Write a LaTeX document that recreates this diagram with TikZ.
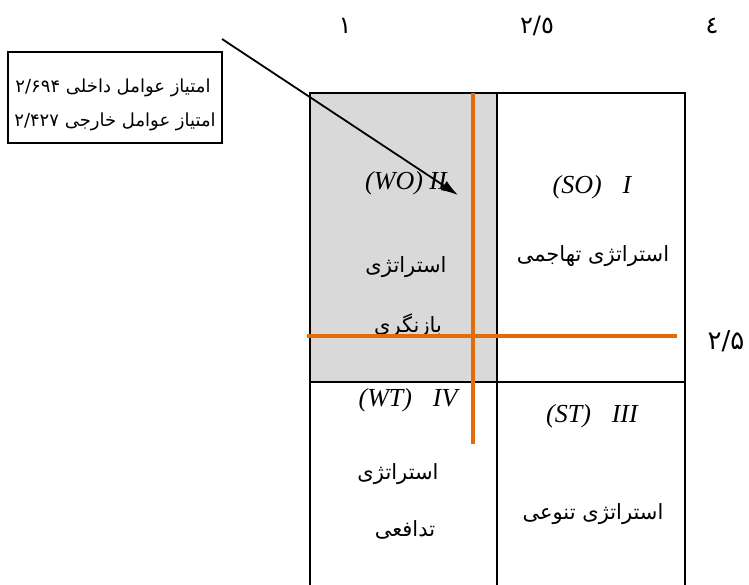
\documentclass[tikz,border=0pt]{standalone}
\usepackage{fontspec}
\setmainfont{Liberation Serif}
\newfontfamily\arabicfont[Script=Arabic]{DejaVu Sans}
\TeXXeTstate=1
\usetikzlibrary{arrows.meta}
\definecolor{swotorange}{RGB}{227,108,10}
\definecolor{swotgray}{RGB}{217,217,217}
\tikzset{
  fa/.style={font=\arabicfont\fontsize{21}{24}\selectfont, inner sep=0pt},
  fabox/.style={font=\arabicfont\fontsize{18}{21}\selectfont, inner sep=0pt},
  faaxis/.style={font=\arabicfont\fontsize{24}{28}\selectfont, inner sep=0pt},
  quad/.style={font=\fontsize{26}{30}\selectfont\itshape, inner sep=0pt},
  gridline/.style={line width=1.6pt},
  meanline/.style={swotorange, line width=4pt},
}
\begin{document}
\begin{tikzpicture}[x=1pt,y=-1pt]
\useasboundingbox (0,0) rectangle (749,584);
% matrix cells
\fill [swotgray] (310,93) rectangle (497,382);
\draw [gridline] (310,600) -- (310,93) -- (685,93) -- (685,600);
\draw [gridline] (497,93) -- (497,600);
\draw [gridline] (310,382) -- (685,382);
% axis values
\node [faaxis] (xone) at (345,26) {١};
\node [faaxis] (xmid) at (537,26) {٢/٥};
\node [faaxis] (xfour) at (712,26) {٤};
\node [faaxis, font=\arabicfont\fontsize{26}{30}\selectfont] (ymid) at (726,341) {۲/۵};
% quadrant labels
\node [quad] (wo) at (406,183) {(WO) II};
\node [fa] (wotxt) at (406,267) {\beginR استراتژی\endR};
\begin{scope}
\clip (310,93) rectangle (497,333);
\node [fa, anchor=base] (wotxtb) at (408,332) {\beginR بازنگری\endR};
\end{scope}
\node [quad] (so) at (592,187) {(SO)\hspace{0.8em}I};
\node [fa] (sotxt) at (593,256) {\beginR استراتژی تهاجمی\endR};
\node [quad] (wt) at (408,400) {(WT)\hspace{0.8em}IV};
\node [fa] (wttxt) at (398,474) {\beginR استراتژی\endR};
\node [fa] (wttxtb) at (405,530) {\beginR تدافعی\endR};
\node [quad] (st) at (592,416) {(ST)\hspace{0.8em}III};
\node [fa] (sttxt) at (593,514) {\beginR استراتژی تنوعی\endR};
% mean lines
\coordinate (vtop) at (473,93);
\coordinate (vbot) at (473,444);
\coordinate (hleft) at (307,336);
\coordinate (hright) at (677,336);
\draw [meanline] (vtop) -- (vbot);
\draw [meanline] (hleft) -- (hright);
% score box
\draw [gridline] (8,52) rectangle (222,143);
\node [fabox] (inscore) at (113,88) {\beginR امتیاز عوامل داخلی \beginL۲/۶۹۴\endL\endR};
\node [fabox] (exscore) at (115,122) {\beginR امتیاز عوامل خارجی \beginL۲/۴۲۷\endL\endR};
\coordinate (arrstart) at (222,39);
\coordinate (arrtip) at (458,195);
\draw [-{Latex[length=17pt,width=11pt]}, line width=1.8pt] (arrstart) -- (arrtip);
\end{tikzpicture}
\end{document}
